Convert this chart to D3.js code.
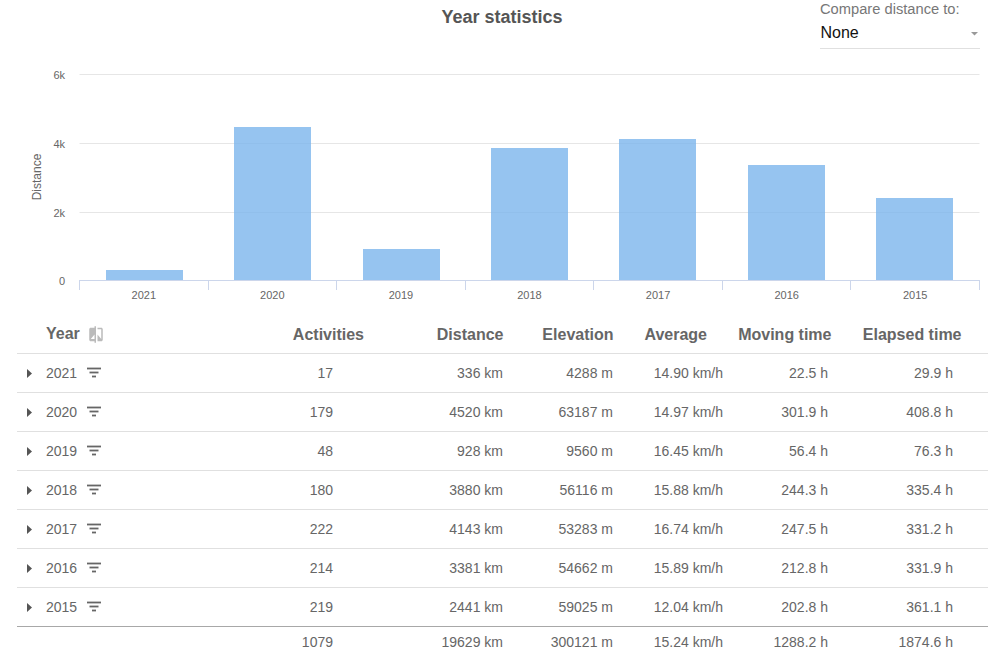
<!DOCTYPE html>
<html><head><meta charset="utf-8">
<script src="https://cdn.jsdelivr.net/npm/d3@7/dist/d3.min.js"></script>
<style>html,body{margin:0;padding:0;background:#fff}svg{display:block}text{font-family:"Liberation Sans",Arial,sans-serif}</style>
</head><body><svg id="c" width="996" height="668"></svg>
<script>
const years=["2021","2020","2019","2018","2017","2016","2015"];
const barDistance=[300,4465,912,3855,4115,3360,2397];
const activities=[17,179,48,180,222,214,219];
const distance=[336,4520,928,3880,4143,3381,2441];
const elevation=[4288,63187,9560,56116,53283,54662,59025];
const average=["14.90","14.97","16.45","15.88","16.74","15.89","12.04"];
const moving=["22.5","301.9","56.4","244.3","247.5","212.8","202.8"];
const elapsed=["29.9","408.8","76.3","335.4","331.2","331.9","361.1"];
const totals=["1079","19629 km","300121 m","15.24 km/h","1288.2 h","1874.6 h"];
const yTicks=[0,2000,4000,6000];
const headers=["Activities","Distance","Elevation","Average","Moving time","Elapsed time"];

const svg=d3.select("#c");
const x=d3.scaleBand().domain(years).range([80.13,978.58]).paddingInner(0.4).paddingOuter(0.2);
const xOuter=d3.scaleBand().domain(years).range([79.5,979.5]);
const y=d3.scaleLinear().domain([0,6000]).range([280.3,74.3]);

svg.append("text").attr("x",502).attr("y",23).attr("text-anchor","middle")
  .attr("font-size",18).attr("font-weight","bold").attr("fill","#555").text("Year statistics");

svg.append("text").attr("x",820).attr("y",14).attr("font-size",14.7).attr("fill","#777").text("Compare distance to:");
svg.append("text").attr("x",820.5).attr("y",38).attr("font-size",16).attr("fill","#111").text("None");
svg.append("path").attr("d","M971 32h7l-3.500 3.500z").attr("fill","#999");
svg.append("line").attr("x1",820).attr("x2",980).attr("y1",48.5).attr("y2",48.5).attr("stroke","#e0e0e0");

svg.append("g").selectAll("line").data(yTicks.slice(1)).join("line")
  .attr("x1",79.5).attr("x2",979.5)
  .attr("y1",d=>Math.round(y(d))+0.5).attr("y2",d=>Math.round(y(d))+0.5).attr("stroke","#e6e6e6");
svg.append("g").selectAll("text").data(yTicks).join("text")
  .attr("x",65).attr("y",d=>y(d)+5).attr("text-anchor","end").attr("font-size",11).attr("fill","#666")
  .text(d=>d===0?"0":(d/1000)+"k");
svg.append("text").attr("transform","translate(41,177) rotate(-90)").attr("text-anchor","middle")
  .attr("font-size",12).attr("fill","#666").text("Distance");

svg.append("g").attr("shape-rendering","crispEdges").selectAll("rect").data(years).join("rect")
  .attr("x",d=>x(d)).attr("width",x.bandwidth())
  .attr("y",(d,i)=>y(barDistance[i])).attr("height",(d,i)=>y(0)-y(barDistance[i]))
  .attr("fill","#7cb5ec").attr("fill-opacity",0.8);

svg.append("line").attr("x1",79.5).attr("x2",979.5).attr("y1",280.5).attr("y2",280.5).attr("stroke","#ccd6eb");
svg.append("g").selectAll("line").data([...years.map(d=>xOuter(d)),979.5]).join("line")
  .attr("x1",d=>Math.floor(d)+0.5).attr("x2",d=>Math.floor(d)+0.5).attr("y1",280).attr("y2",290).attr("stroke","#ccd6eb");
svg.append("g").selectAll("text").data(years).join("text")
  .attr("x",d=>xOuter(d)+xOuter.bandwidth()/2).attr("y",299).attr("text-anchor","middle")
  .attr("font-size",11).attr("fill","#666").text(d=>d);

// Table
const rowY=d3.scalePoint().domain(years).range([373,607]);
const headRight=[364,503.500,613.500,707,831.500,961.500];
const colRight=[333,503,613,723,828,953];
svg.append("text").attr("x",46).attr("y",339).attr("font-size",16).attr("font-weight","bold").attr("fill","#666").text("Year");
svg.append("path").attr("transform","translate(87,325.500) scale(0.75)").attr("fill","#bbb")
  .attr("d","M10 3H5c-1.100 0-2 .9-2 2v14c0 1.100.9 2 2 2h5v2h2V1h-2v2zm0 15H5l5-6v6zm9-15h-5v2h5v13l-5-6v9h5c1.100 0 2-.9 2-2V5c0-1.100-.9-2-2-2z");
svg.append("g").selectAll("text").data(headers).join("text")
  .attr("x",(d,i)=>headRight[i]).attr("y",340).attr("text-anchor","end")
  .attr("font-size",16).attr("font-weight","bold").attr("fill","#666").text(d=>d);

svg.append("line").attr("x1",17).attr("x2",988).attr("y1",353.5).attr("y2",353.5).attr("stroke","#e0e0e0");
const rows=svg.append("g").selectAll("g").data(years).join("g");
rows.append("line").attr("x1",17).attr("x2",988)
  .attr("y1",d=>rowY(d)+19.5).attr("y2",d=>rowY(d)+19.5)
  .attr("stroke",(d,i)=>i===years.length-1?"#a8a8a8":"#e0e0e0");
rows.append("path").attr("d",d=>`M27 ${rowY(d)-4}l5 4.500l-5 4.500z`).attr("fill","#555");
rows.append("text").attr("x",46).attr("y",d=>rowY(d)+5).attr("font-size",14).attr("fill","#666").text(d=>d);
rows.append("g").attr("stroke","#666").attr("stroke-width",1.8).each(function(d){
  const g=d3.select(this),c=rowY(d);
  [[87,101,-4],[89.5,98.5,0],[92,96,4]].forEach(s=>g.append("line").attr("x1",s[0]).attr("x2",s[1]).attr("y1",c+s[2]-0.5).attr("y2",c+s[2]-0.5));
});
const cols=[
  i=>String(activities[i]),i=>distance[i]+" km",i=>elevation[i]+" m",
  i=>average[i]+" km/h",i=>moving[i]+" h",i=>elapsed[i]+" h"];
cols.forEach((f,c)=>{
  rows.append("text").attr("x",colRight[c]).attr("y",d=>rowY(d)+5).attr("text-anchor","end")
    .attr("font-size",14).attr("fill","#666").text((d,i)=>f(i));
});
svg.append("g").selectAll("text").data(totals).join("text")
  .attr("x",(d,i)=>colRight[i]).attr("y",647).attr("text-anchor","end")
  .attr("font-size",14).attr("fill","#666").text(d=>d);
</script></body></html>
